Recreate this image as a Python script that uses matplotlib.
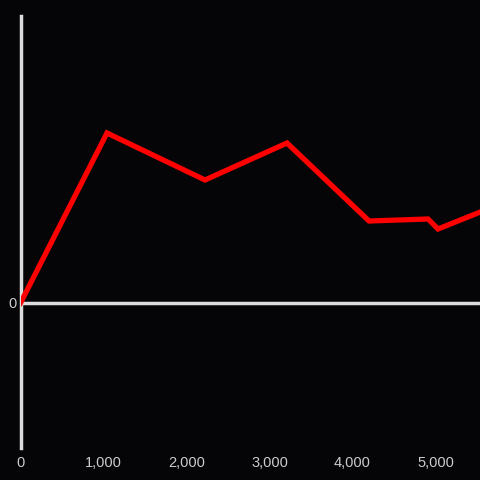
import matplotlib
matplotlib.use('Agg')
import matplotlib.pyplot as plt
from matplotlib.ticker import FuncFormatter

# values
xs = [0, 1042, 2223, 3211, 4199, 4910, 5030, 5600]
ys = [0, 170, 123, 160, 82, 84, 74, 93]
xticks = [0, 1000, 2000, 3000, 4000, 5000]

bg = '#050407'
fg = '#dcdcdc'

fig = plt.figure(figsize=(4.8, 4.8), dpi=100, facecolor=bg)
ax = fig.add_axes([20.5/480, 32/480, (480-20.5)/480, (448-16)/480])
ax.set_facecolor(bg)

ax.plot(xs, ys, color='#ff0000', lw=3.8, solid_joinstyle='miter', zorder=3)
ax.axhline(0, color=fg, lw=2.5, zorder=2)

ax.set_xlim(0, 5536)
ax.set_ylim(-145, 287)

for s in ['top', 'right', 'bottom']:
    ax.spines[s].set_visible(False)
ax.spines['left'].set_color(fg)
ax.spines['left'].set_linewidth(2.5)

ax.set_xticks(xticks)
ax.xaxis.set_major_formatter(FuncFormatter(lambda v, p: f'{int(v):,}'))
ax.set_yticks([0])
ax.tick_params(axis='both', length=0, colors='#cccccc', labelsize=10.5,
               labelfontfamily='Liberation Sans')
ax.tick_params(axis='x', pad=6)
ax.tick_params(axis='y', pad=3)

plt.savefig('out.png', dpi=100, facecolor=bg)
